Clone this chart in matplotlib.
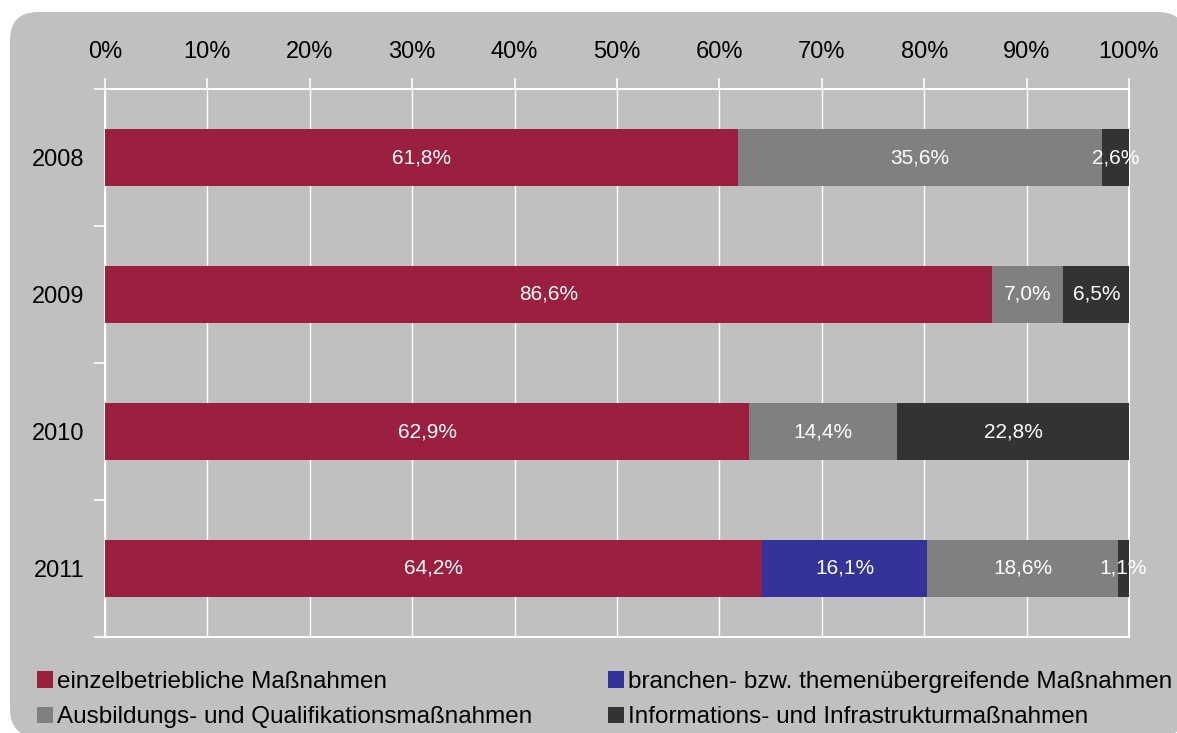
import matplotlib
matplotlib.use("Agg")
import matplotlib.pyplot as plt
from matplotlib.patches import FancyBboxPatch, Patch
import numpy as np

plt.rcParams['font.family'] = ['Liberation Sans', 'DejaVu Sans']

years = ["2008", "2009", "2010", "2011"]
series_names = ["einzelbetriebliche Maßnahmen",
                "branchen- bzw. themenübergreifende Maßnahmen",
                "Ausbildungs- und Qualifikationsmaßnahmen",
                "Informations- und Infrastrukturmaßnahmen"]
einzel = [61.8, 86.6, 62.9, 64.2]
branchen = [0.0, 0.0, 0.0, 16.1]
ausbildung = [35.6, 7.0, 14.4, 18.6]
information = [2.6, 6.5, 22.8, 1.1]
colors = ["#9B2040", "#333399", "#808080", "#333333"]
xticks = list(range(0, 101, 10))
xticklabels = [f"{v}%" for v in xticks]

W, H = 1177, 733
fig = plt.figure(figsize=(W / 100, H / 100), dpi=100, facecolor="white")

bg = FancyBboxPatch((10 / W, -4 / H), (1186 - 10) / W, (H - 12 + 4) / H,
                    boxstyle="round,pad=0,rounding_size=0.024",
                    transform=fig.transFigure, facecolor="#C0C0C0",
                    edgecolor="none", zorder=-10, mutation_aspect=W / H)
fig.patches.append(bg)

ax = fig.add_axes([105 / W, 1 - 637 / H, (1129 - 105) / W, (637 - 89) / H])
ax.set_facecolor("#C0C0C0")

y = np.arange(len(years))
series = [einzel, branchen, ausbildung, information]
left = np.zeros(len(years))
for vals, col in zip(series, colors):
    vals = np.array(vals)
    ax.barh(y, vals, left=left, height=0.41, color=col, zorder=3)
    for yi, (l, v) in enumerate(zip(left, vals)):
        if v > 0:
            ax.text(l + v / 2, yi, f"{v:.1f}%".replace(".", ","),
                    ha="center", va="center", color="white", fontsize=15, zorder=4)
    left += vals

ax.set_xlim(0, 100)
ax.set_ylim(3.5, -0.5)
ax.xaxis.tick_top()
ax.set_xticks(xticks)
ax.set_xticklabels(xticklabels, fontsize=17)
ax.tick_params(axis="x", which="major", length=8, width=1.2, color="white",
               pad=11, direction="out")
ax.set_yticks(y)
ax.set_yticklabels(years, fontsize=17)
ax.set_yticks(np.arange(-0.5, len(years)), minor=True)
ax.tick_params(axis="y", which="major", length=0, pad=15)
ax.tick_params(axis="y", which="minor", length=8, width=1.2, color="white", direction="out")
ax.grid(axis="x", color="white", linewidth=1.0, zorder=1)
for s in ax.spines.values():
    s.set_color("white")
    s.set_linewidth(1.5)

handles = [Patch(facecolor=c, edgecolor="none") for c in colors]
order = [0, 2, 1, 3]
fig.legend([handles[i] for i in order], [series_names[i] for i in order],
           ncol=2, loc="upper left", bbox_to_anchor=(37 / W, 1 - 671 / H),
           frameon=False, fontsize=17.5, handlelength=0.66, handleheight=0.66,
           handletextpad=0.17, columnspacing=3.1, labelspacing=0.55,
           borderaxespad=0, borderpad=0)

fig.savefig("out.png", dpi=100, facecolor="white")
